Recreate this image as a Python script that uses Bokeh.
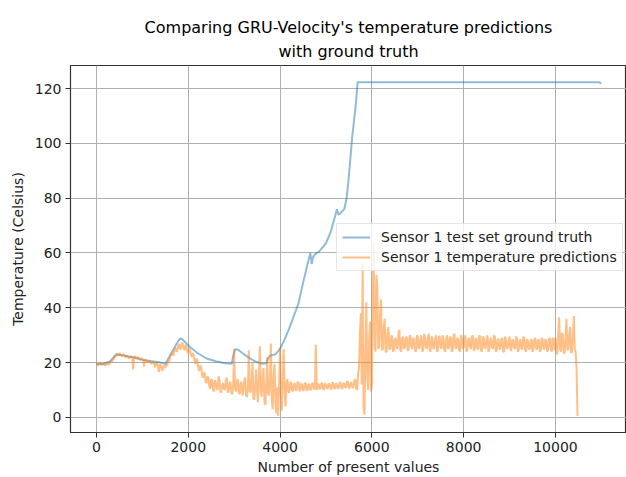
from bokeh.plotting import figure
from bokeh.embed import file_html
from bokeh.resources import INLINE
from bokeh.models import FixedTicker, Legend, LegendItem, Title

# Ground truth (blue)
gt_x = [0, 150, 300, 380, 450, 550, 700, 850, 1000, 1200, 1400, 1500, 1550, 1650, 1750, 1820, 1870,
        1950, 2050, 2200, 2400, 2600, 2800, 2950, 2980, 3020, 3080, 3180, 3300, 3450, 3600, 3700,
        3740, 3780, 3900, 4000, 4100, 4200, 4300, 4400, 4500, 4600, 4660, 4690, 4720, 4760, 4850,
        5000, 5100, 5200, 5240, 5270, 5300, 5400, 5450, 5500, 5570, 5650, 5690, 5720, 8000, 10950, 11000]
gt_y = [19.5, 19.5, 20.5, 22.0, 23.0, 22.8, 22.2, 21.8, 21.0, 20.5, 20.0, 19.5, 21.0, 24.0, 27.0, 28.8, 28.5,
        27.2, 25.5, 23.5, 21.5, 20.5, 19.8, 19.6, 22.5, 24.8, 24.8, 23.5, 22.0, 20.5, 19.6, 19.8,
        21.5, 22.5, 23.0, 25.0, 28.5, 32.5, 37.0, 41.5, 49.0, 56.0, 60.0, 56.0, 58.5, 59.5, 60.5,
        63.5, 67.5, 73.5, 76.0, 74.0, 74.3, 76.0, 80.0, 88.0, 102.0, 114.0, 122.3, 122.3, 122.3, 122.3, 121.8]

# Predictions (orange), one value every 20 samples starting at 0
pred_step = 20
pred_y = [
    19.5, 19.2, 19.0, 19.6, 19.8, 19.3, 19.1, 19.7, 19.6, 19.2, 19.0, 19.5, 19.9, 19.3, 19.4, 20.0, 20.6, 20.2, 21.5, 21.2,  # 0
    22.8, 22.3, 23.4, 23.0, 22.6, 23.3, 23.2, 22.5, 22.4, 23.0, 22.9, 22.2, 21.9, 22.6, 22.3, 21.7, 21.6, 22.3, 22.2, 21.8,  # 400
    17.5, 22.0, 22.3, 21.6, 21.5, 22.0, 21.9, 21.2, 21.0, 21.6, 21.4, 20.8, 18.5, 21.2, 21.0, 20.4, 20.2, 20.8, 20.6, 20.0,  # 800
    19.5, 20.3, 20.2, 19.4, 18.2, 19.9, 19.6, 18.8, 16.5, 19.3, 19.0, 17.8, 17.0, 18.9, 18.6, 18.0, 19.5, 18.8, 20.8, 20.2,  # 1200
    21.5, 22.8, 23.5, 22.6, 22.8, 24.5, 25.5, 24.2, 24.0, 26.2, 26.8, 25.0, 25.0, 27.2, 27.0, 25.3, 24.5, 26.5, 26.0, 24.0,  # 1600
    23.5, 25.0, 24.5, 22.8, 22.0, 23.5, 22.5, 20.5, 19.5, 21.5, 20.5, 18.0, 17.0, 19.0, 18.5, 15.5, 14.5, 16.5, 16.0, 13.0,  # 2000
    12.5, 15.0, 14.5, 11.0, 10.5, 14.0, 13.5, 10.0, 9.5, 13.5, 13.0, 10.5, 10.0, 15.0, 14.0, 9.5, 9.0, 12.0, 12.5, 10.5,     # 2400
    10.0, 13.5, 14.5, 9.0, 9.5, 12.5, 13.0, 9.0, 8.5, 12.0, 25.0, 10.5, 9.5, 13.0, 14.0, 9.0, 8.5, 12.5, 13.0, 8.0,         # 2800
    9.0, 13.5, 14.5, 8.0, 7.5, 11.0, 24.5, 9.5, 9.0, 13.0, 20.0, 7.0, 6.5, 12.0, 17.5, 9.0, 5.5, 14.0, 26.0, 10.0,          # 3200
    7.5, 15.0, 18.0, 6.0, 4.5, 12.0, 22.0, 9.0, 8.0, 14.5, 27.0, 6.5, 3.0, 15.0, 19.5, 5.0, 1.5, 11.0, 0.5, 12.0,           # 3600
    25.5, 8.0, 2.5, 14.0, 25.0, 9.0, 4.0, 12.5, 14.0, 9.5, 9.0, 12.5, 13.0, 10.0, 9.5, 12.0, 12.5, 9.8, 10.0, 12.8,         # 4000
    13.0, 10.2, 9.5, 12.4, 12.0, 9.8, 10.0, 12.6, 12.5, 10.2, 9.8, 12.2, 12.0, 10.0, 10.2, 12.5, 12.5, 10.3, 10.5, 26.5,    # 4400
    10.0, 12.3, 12.0, 10.4, 10.5, 12.6, 12.5, 10.2, 10.3, 12.4, 12.0, 10.6, 10.5, 12.3, 12.2, 10.4, 10.4, 12.7, 12.5, 10.5, # 4800
    10.6, 12.4, 12.0, 10.5, 10.8, 12.8, 12.6, 10.6, 10.5, 12.5, 12.3, 10.9, 11.0, 13.2, 13.0, 10.7, 10.8, 12.8, 12.5, 10.9, # 5200
    11.0, 13.5, 14.0, 10.5, 10.0, 16.0, 18.0, 30.0, 38.0, 12.0, 56.0, 3.0, 1.0, 25.0, 42.0, 15.0, 10.0, 28.0, 35.0, 9.5,    # 5600
    12.0, 45.0, 64.0, 26.0, 24.0, 52.0, 48.0, 25.0, 26.0, 38.0, 43.0, 24.5, 25.0, 33.0, 36.0, 24.0, 24.0, 30.5, 33.0, 25.0, # 6000
    25.0, 29.0, 30.0, 24.0, 24.5, 28.5, 29.0, 25.5, 25.0, 30.5, 32.0, 24.5, 24.0, 28.8, 29.5, 25.0, 25.5, 29.0, 29.5, 24.5, # 6400
    24.5, 29.5, 30.0, 25.5, 25.0, 29.0, 28.5, 24.5, 24.0, 30.0, 29.5, 25.0, 25.5, 28.5, 30.0, 24.0, 24.5, 30.5, 29.0, 25.5, # 6800
    25.0, 29.0, 30.5, 24.5, 24.0, 29.5, 29.0, 25.0, 25.5, 28.5, 30.0, 24.0, 24.5, 29.5, 29.5, 25.5, 25.0, 30.0, 28.5, 24.5, # 7200
    24.0, 28.5, 30.0, 25.0, 25.5, 29.5, 29.0, 24.0, 24.5, 30.0, 30.5, 25.5, 25.0, 29.0, 28.5, 24.5, 24.0, 30.0, 29.5, 25.0, # 7600
    25.5, 29.0, 30.0, 24.0, 24.5, 28.5, 29.0, 25.5, 25.0, 29.5, 30.0, 24.5, 24.5, 29.0, 28.5, 25.0, 25.0, 30.0, 29.5, 24.5, # 8000
    24.0, 29.5, 29.0, 25.0, 25.5, 28.5, 30.0, 24.0, 24.5, 29.0, 28.5, 25.5, 25.0, 30.0, 29.5, 24.0, 24.5, 28.5, 28.5, 25.0, # 8400
    25.0, 28.5, 29.0, 24.0, 24.0, 29.5, 28.5, 25.0, 25.5, 28.0, 29.5, 24.5, 24.5, 28.5, 28.0, 25.5, 25.0, 29.5, 29.0, 24.0, # 8800
    24.5, 28.0, 28.5, 25.0, 25.0, 29.5, 29.0, 24.5, 24.0, 28.5, 28.0, 25.0, 25.0, 28.0, 28.5, 24.0, 24.5, 28.5, 29.0, 25.0, # 9200
    25.0, 28.5, 28.0, 24.0, 24.5, 29.0, 28.5, 25.0, 25.0, 28.5, 28.0, 24.0, 24.5, 28.5, 29.0, 25.0, 24.0, 29.0, 28.5, 24.5, # 9600
    29.0, 24.0, 23.0, 30.0, 36.5, 25.0, 24.0, 31.0, 30.0, 23.5, 23.5, 29.0, 36.0, 24.5, 25.0, 30.5, 33.0, 23.5, 24.0, 30.0, # 10000
    37.0, 25.0, 24.0, 18.0, 0.5,                                                                                            # 10400
]
pred_x = [i * pred_step for i in range(len(pred_y))]

x_ticks = [0, 2000, 4000, 6000, 8000, 10000]
y_ticks = [0, 20, 40, 60, 80, 100, 120]

title_line1 = "Comparing GRU-Velocity's temperature predictions"
title_line2 = "with ground truth"
x_label = "Number of present values"
y_label = "Temperature (Celsius)"
label_gt = "Sensor 1 test set ground truth"
label_pred = "Sensor 1 temperature predictions"

FONT = "DejaVu Sans"
FS = "14px"

p = figure(width=626, height=477, x_range=(-565, 11548), y_range=(-5.5, 128.4),
           output_backend="svg", toolbar_location=None, title=None,
           min_border_left=70, min_border_right=0, min_border_top=65, min_border_bottom=45)

t2 = Title(text=title_line2, align="center", text_font=FONT, text_font_size="16px",
           text_font_style="normal", text_color="black", standoff=10)
t1 = Title(text=title_line1, align="center", text_font=FONT, text_font_size="16px",
           text_font_style="normal", text_color="black", standoff=-5)
p.add_layout(t2, "above")
p.add_layout(t1, "above")

r_gt = p.line(gt_x, gt_y, line_color="#1f77b4", line_alpha=0.5, line_width=2)
r_pred = p.line(pred_x, pred_y, line_color="#ff7f0e", line_alpha=0.5, line_width=2)

p.xaxis.ticker = FixedTicker(ticks=x_ticks)
p.yaxis.ticker = FixedTicker(ticks=y_ticks)
for ax in (p.xaxis[0], p.yaxis[0]):
    ax.major_label_text_font = FONT
    ax.major_label_text_font_size = FS
    ax.major_label_text_color = "#222222"
    ax.axis_label_text_font = FONT
    ax.axis_label_text_font_size = FS
    ax.axis_label_text_font_style = "normal"
    ax.axis_label_text_color = "#222222"
    ax.minor_tick_line_color = None
    ax.major_tick_out = 5
    ax.major_tick_in = 0
    ax.major_tick_line_color = "#333333"
    ax.axis_line_color = "#333333"
    ax.major_label_standoff = 4
p.xaxis.axis_label = x_label
p.yaxis.axis_label = y_label
p.yaxis.axis_label_standoff = 6
p.xaxis.axis_label_standoff = 4

p.outline_line_color = "#333333"
p.outline_line_width = 1.2
p.xgrid.grid_line_color = "#b0b0b0"
p.ygrid.grid_line_color = "#b0b0b0"
p.xgrid.grid_line_width = 1
p.ygrid.grid_line_width = 1

legend = Legend(items=[LegendItem(label=label_gt, renderers=[r_gt]),
                       LegendItem(label=label_pred, renderers=[r_pred])],
                location=(266, 161))
legend.label_text_font = FONT
legend.label_text_font_size = FS
legend.label_text_color = "#222222"
legend.glyph_width = 28
legend.glyph_height = 16
legend.label_standoff = 11
legend.padding = 5
legend.spacing = 4
legend.margin = 0
legend.border_line_color = "#cccccc"
legend.background_fill_alpha = 0.8
p.add_layout(legend)

open("out.html", "w").write(file_html(p, INLINE))
